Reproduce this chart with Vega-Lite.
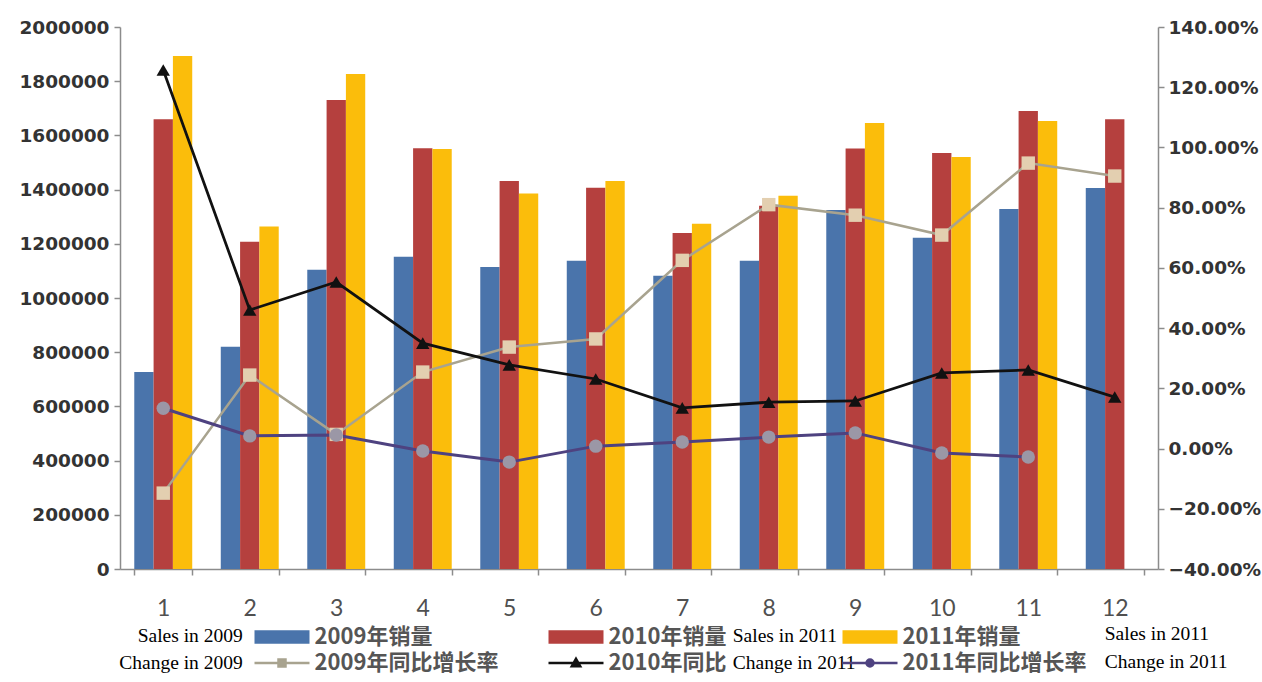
{
  "$schema": "https://vega.github.io/schema/vega-lite/v6.json",
  "width": 1038,
  "height": 542,
  "autosize": {"type": "none"},
  "padding": {"left": 120, "top": 27, "right": 104, "bottom": 113},
  "background": "white",
  "config": {"view": {"stroke": null}, "axis": {"grid": false}},
  "datasets": {
    "bars": [
      {"month": 1, "series": "2009年销量", "sales": 727000},
      {"month": 1, "series": "2010年销量", "sales": 1660000},
      {"month": 1, "series": "2011年销量", "sales": 1893000},
      {"month": 2, "series": "2009年销量", "sales": 820000},
      {"month": 2, "series": "2010年销量", "sales": 1208000},
      {"month": 2, "series": "2011年销量", "sales": 1264000},
      {"month": 3, "series": "2009年销量", "sales": 1104000},
      {"month": 3, "series": "2010年销量", "sales": 1731000},
      {"month": 3, "series": "2011年销量", "sales": 1827000},
      {"month": 4, "series": "2009年销量", "sales": 1152000},
      {"month": 4, "series": "2010年销量", "sales": 1553000},
      {"month": 4, "series": "2011年销量", "sales": 1550000},
      {"month": 5, "series": "2009年销量", "sales": 1114000},
      {"month": 5, "series": "2010年销量", "sales": 1432000},
      {"month": 5, "series": "2011年销量", "sales": 1386000},
      {"month": 6, "series": "2009年销量", "sales": 1137000},
      {"month": 6, "series": "2010年销量", "sales": 1407000},
      {"month": 6, "series": "2011年销量", "sales": 1432000},
      {"month": 7, "series": "2009年销量", "sales": 1082000},
      {"month": 7, "series": "2010年销量", "sales": 1240000},
      {"month": 7, "series": "2011年销量", "sales": 1274000},
      {"month": 8, "series": "2009年销量", "sales": 1137000},
      {"month": 8, "series": "2010年销量", "sales": 1340000},
      {"month": 8, "series": "2011年销量", "sales": 1377000},
      {"month": 9, "series": "2009年销量", "sales": 1325000},
      {"month": 9, "series": "2010年销量", "sales": 1552000},
      {"month": 9, "series": "2011年销量", "sales": 1646000},
      {"month": 10, "series": "2009年销量", "sales": 1222000},
      {"month": 10, "series": "2010年销量", "sales": 1535000},
      {"month": 10, "series": "2011年销量", "sales": 1520000},
      {"month": 11, "series": "2009年销量", "sales": 1328000},
      {"month": 11, "series": "2010年销量", "sales": 1690000},
      {"month": 11, "series": "2011年销量", "sales": 1653000},
      {"month": 12, "series": "2009年销量", "sales": 1406000},
      {"month": 12, "series": "2010年销量", "sales": 1660000}
    ],
    "lines": [
      {"month": 1, "series": "2009年同比增长率", "rate": -0.148},
      {"month": 2, "series": "2009年同比增长率", "rate": 0.244},
      {"month": 3, "series": "2009年同比增长率", "rate": 0.047},
      {"month": 4, "series": "2009年同比增长率", "rate": 0.254},
      {"month": 5, "series": "2009年同比增长率", "rate": 0.337},
      {"month": 6, "series": "2009年同比增长率", "rate": 0.364},
      {"month": 7, "series": "2009年同比增长率", "rate": 0.625},
      {"month": 8, "series": "2009年同比增长率", "rate": 0.81},
      {"month": 9, "series": "2009年同比增长率", "rate": 0.775},
      {"month": 10, "series": "2009年同比增长率", "rate": 0.709},
      {"month": 11, "series": "2009年同比增长率", "rate": 0.948},
      {"month": 12, "series": "2009年同比增长率", "rate": 0.905},
      {"month": 1, "series": "2010年同比增长率", "rate": 1.257},
      {"month": 2, "series": "2010年同比增长率", "rate": 0.46},
      {"month": 3, "series": "2010年同比增长率", "rate": 0.553},
      {"month": 4, "series": "2010年同比增长率", "rate": 0.35},
      {"month": 5, "series": "2010年同比增长率", "rate": 0.278},
      {"month": 6, "series": "2010年同比增长率", "rate": 0.231},
      {"month": 7, "series": "2010年同比增长率", "rate": 0.135},
      {"month": 8, "series": "2010年同比增长率", "rate": 0.154},
      {"month": 9, "series": "2010年同比增长率", "rate": 0.158},
      {"month": 10, "series": "2010年同比增长率", "rate": 0.251},
      {"month": 11, "series": "2010年同比增长率", "rate": 0.261},
      {"month": 12, "series": "2010年同比增长率", "rate": 0.171},
      {"month": 1, "series": "2011年同比增长率", "rate": 0.134},
      {"month": 2, "series": "2011年同比增长率", "rate": 0.042},
      {"month": 3, "series": "2011年同比增长率", "rate": 0.045},
      {"month": 4, "series": "2011年同比增长率", "rate": -0.008},
      {"month": 5, "series": "2011年同比增长率", "rate": -0.045},
      {"month": 6, "series": "2011年同比增长率", "rate": 0.008},
      {"month": 7, "series": "2011年同比增长率", "rate": 0.022},
      {"month": 8, "series": "2011年同比增长率", "rate": 0.038},
      {"month": 9, "series": "2011年同比增长率", "rate": 0.052},
      {"month": 10, "series": "2011年同比增长率", "rate": -0.015},
      {"month": 11, "series": "2011年同比增长率", "rate": -0.028}
    ]
  },
  "layer": [
    {
      "layer": [
        {
          "data": {"name": "bars"},
          "mark": {"type": "bar"},
          "encoding": {
            "x": {
              "field": "month", "type": "ordinal",
              "scale": {"paddingInner": 0.33, "paddingOuter": 0.165},
              "axis": {
                "title": null, "labelAngle": 0, "labelFont": "Lato", "labelFontSize": 23,
                "labelColor": "#505050", "labelPadding": 22, "tickBand": "extent",
                "tickSize": 6, "tickColor": "#8c8c8c", "tickWidth": 1.5,
                "domainColor": "#8c8c8c", "domainWidth": 1.5
              }
            },
            "xOffset": {"field": "series", "type": "nominal", "scale": {"paddingInner": 0, "paddingOuter": 0}},
            "y": {
              "field": "sales", "type": "quantitative",
              "scale": {"domain": [0, 2000000], "nice": false},
              "axis": {
                "title": null, "values": [0, 200000, 400000, 600000, 800000, 1000000, 1200000, 1400000, 1600000, 1800000, 2000000],
                "format": "d", "labelFont": "DejaVu Sans", "labelFontWeight": "bold", "labelFontSize": 18.5,
                "labelColor": "#333333", "tickSize": 6, "labelPadding": 5,
                "tickColor": "#8c8c8c", "tickWidth": 1.5, "domainColor": "#8c8c8c", "domainWidth": 1.5
              }
            },
            "color": {
              "field": "series", "type": "nominal",
              "scale": {
                "domain": ["2009年销量", "2010年销量", "2011年销量", "2009年同比增长率", "2010年同比增长率", "2011年同比增长率"],
                "range": ["#4a74ab", "#b5403e", "#fbbd0b", "#a8a38f", "#111111", "#4e4280"]
              },
              "legend": {
                "orient": "none", "legendX": 194.5, "legendY": 610, "direction": "horizontal",
                "columns": 3, "gridAlign": "all", "title": null,
                "symbolSize": 196, "labelOffset": 0, "columnPadding": 45, "rowPadding": 4,
                "labelFont": "Noto Sans CJK SC", "labelFontSize": 22, "labelFontWeight": "bold",
                "labelColor": "#555555", "labelLimit": 400,
                "labelExpr": "datum.label == '2010年同比增长率' ? '2010年同比' : datum.label",
                "encode": {
                  "symbols": {
                    "update": {
                      "shape": {"signal": "['M-8.571,-0.95L-0.714,-0.95L-0.714,0.95L-8.571,0.95Z','M-8.571,-0.95L-0.714,-0.95L-0.714,0.95L-8.571,0.95Z','M-8.571,-0.95L-0.714,-0.95L-0.714,0.95L-8.571,0.95Z','M-8.571,0L-0.714,0M-5.143,-0.5L-4.143,-0.5L-4.143,0.5L-5.143,0.5Z','M-8.571,0L-0.714,0M-4.643,-0.6L-4.043,0.45L-5.243,0.45Z','M-8.571,0L-0.714,0M-4.143,0A0.5,0.5,0,1,1,-5.143,0A0.5,0.5,0,1,1,-4.143,0Z'][indexof(['2009年销量','2010年销量','2011年销量','2009年同比增长率','2010年同比增长率','2011年同比增长率'], datum.value)]"},
                      "fill": {"signal": "['#4a74ab','#b5403e','#fbbd0b','#e3cfb0','#111111','#9b97a6'][indexof(['2009年销量','2010年销量','2011年销量','2009年同比增长率','2010年同比增长率','2011年同比增长率'], datum.value)]"},
                      "stroke": {"signal": "['#4a74ab','#b5403e','#fbbd0b','#a8a38f','#111111','#4e4280'][indexof(['2009年销量','2010年销量','2011年销量','2009年同比增长率','2010年同比增长率','2011年同比增长率'], datum.value)]"},
                      "strokeWidth": {"signal": "[0,0,0,2.5,2.5,2.5][indexof(['2009年销量','2010年销量','2011年销量','2009年同比增长率','2010年同比增长率','2011年同比增长率'], datum.value)]"},
                      "opacity": {"value": 1},
                      "fillOpacity": {"value": 1},
                      "strokeOpacity": {"value": 1}
                    }
                  }
                }
              }
            }
          }
        },
        {
          "data": {"values": [{}]},
          "mark": {"type": "text", "align": "right", "baseline": "middle", "font": "Liberation Serif", "fontSize": 19.5, "lineHeight": 27, "color": "#000000", "dx": -7},
          "encoding": {
            "x": {"datum": 2, "type": "ordinal"},
            "y": {"datum": -247000, "type": "quantitative"},
            "text": {"value": ["Sales in 2009", "Change in 2009"]}
          }
        },
        {
          "data": {"values": [{}]},
          "mark": {"type": "text", "align": "left", "baseline": "middle", "font": "Liberation Serif", "fontSize": 19.5, "lineHeight": 27, "color": "#000000", "dx": -36},
          "encoding": {
            "x": {"datum": 8, "type": "ordinal"},
            "y": {"datum": -247000, "type": "quantitative"},
            "text": {"value": ["Sales in 2011", "Change in 2011"]}
          }
        },
        {
          "data": {"values": [{}]},
          "mark": {"type": "text", "align": "left", "baseline": "middle", "font": "Liberation Serif", "fontSize": 19.5, "lineHeight": 28, "color": "#000000", "dx": -10},
          "encoding": {
            "x": {"datum": 12, "type": "ordinal"},
            "y": {"datum": -240000, "type": "quantitative"},
            "text": {"value": ["Sales in 2011", "Change in 2011"]}
          }
        }
      ]
    },
    {
      "data": {"name": "lines"},
      "layer": [
        {
          "mark": {"type": "line"},
          "encoding": {
            "x": {"field": "month", "type": "ordinal"},
            "y": {
              "field": "rate", "type": "quantitative",
              "scale": {"domain": [-0.4, 1.4], "nice": false, "zero": false},
              "axis": {
                "orient": "right", "title": null,
                "values": [-0.4, -0.2, 0, 0.2, 0.4, 0.6, 0.8, 1.0, 1.2, 1.4],
                "format": ".2%", "labelFont": "DejaVu Sans", "labelFontWeight": "bold", "labelFontSize": 18.5,
                "labelColor": "#333333", "tickSize": 6, "labelPadding": 4,
                "tickColor": "#8c8c8c", "tickWidth": 1.5, "domainColor": "#8c8c8c", "domainWidth": 1.5
              }
            },
            "color": {"field": "series", "type": "nominal"},
            "strokeWidth": {
              "field": "series", "type": "nominal",
              "scale": {"domain": ["2009年同比增长率", "2010年同比增长率", "2011年同比增长率"], "range": [2.5, 3, 2.5]},
              "legend": null
            }
          }
        },
        {
          "mark": {"type": "point", "filled": true, "opacity": 1, "strokeWidth": 0},
          "encoding": {
            "x": {"field": "month", "type": "ordinal"},
            "y": {"field": "rate", "type": "quantitative"},
            "shape": {
              "field": "series", "type": "nominal",
              "scale": {"domain": ["2009年同比增长率", "2010年同比增长率", "2011年同比增长率"], "range": ["square", "triangle-up", "circle"]},
              "legend": null
            },
            "fill": {
              "field": "series", "type": "nominal",
              "scale": {"domain": ["2009年同比增长率", "2010年同比增长率", "2011年同比增长率"], "range": ["#e3cfb0", "#111111", "#9b97a6"]},
              "legend": null
            },
            "size": {"value": 180}
          }
        }
      ]
    }
  ],
  "resolve": {"scale": {"y": "independent"}}
}
